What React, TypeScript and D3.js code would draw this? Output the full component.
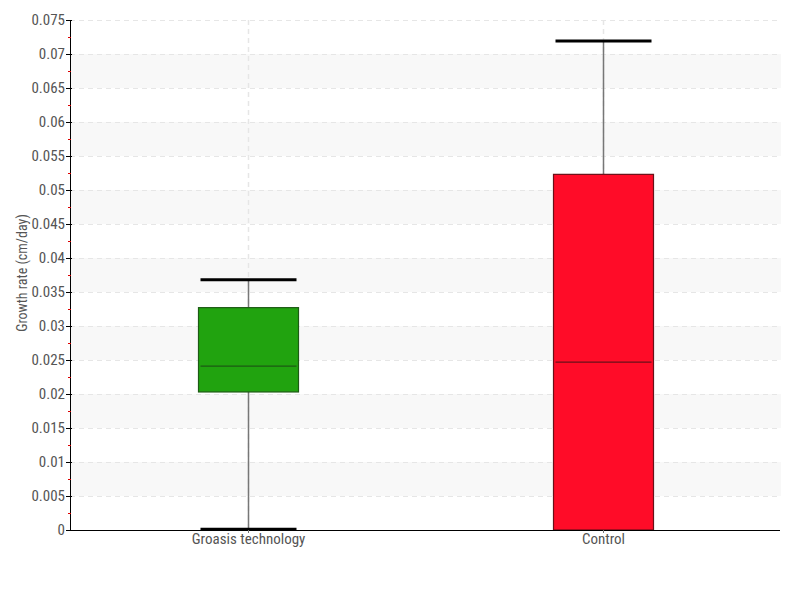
import React from "react";
import * as d3 from "d3";

const categories = ["Groasis technology", "Control"];
const whiskerLow = [0.0001, 0];
const q1 = [0.0203, 0];
const median = [0.0241, 0.0247];
const q3 = [0.0327, 0.0523];
const whiskerHigh = [0.0368, 0.0719];
const fills = ["#21a30f", "#ff0c28"];
const strokes = ["#1d5a14", "#6a1018"];
const yTicks = d3.range(0, 0.0751, 0.005);
const yMinor = d3.range(0.0025, 0.075, 0.005);
const yTitle = "Growth rate (cm/day)";

const W = 800, H = 600;
const L = 70, R = 780, T = 20, B = 530;
const font = "'Liberation Sans Narrow', 'Roboto Condensed', 'Liberation Sans', sans-serif";

export default function App() {
  const y = d3.scaleLinear().domain([0, 0.075]).range([B, T]);
  const x = d3.scaleBand().domain(categories).range([L, R]);
  const boxW = 100;
  const capW = 96;
  const fmt = (v: number) => {
    const s = +v.toFixed(4);
    return s === 0 ? "0" : String(s);
  };
  return (
    <svg width={W} height={H} style={{ position: "absolute", left: 0, top: 0, background: "#fff" }}>
      {d3.range(0, 7).map((k) => {
        const lo = (2 * k + 1) * 0.005;
        const hi = (2 * k + 2) * 0.005;
        return <rect key={"b" + k} x={L} y={y(hi)} width={R - L + 1} height={y(lo) - y(hi)} fill="#f8f8f8" />;
      })}
      {yTicks.map((t, i) => (
        <line key={"g" + i} x1={L} x2={R - 3} y1={Math.round(y(t)) + 0.5} y2={Math.round(y(t)) + 0.5} stroke="#e6e6e6" strokeDasharray="5,4" />
      ))}
      {categories.map((c) => {
        const cx = Math.round(x(c)! + x.bandwidth() / 2) + 0.5;
        return <line key={"vg" + c} x1={cx} x2={cx} y1={T} y2={B} stroke="#e6e6e6" strokeWidth={1.5} strokeDasharray="5,4" />;
      })}
      {categories.map((c, i) => {
        const cx = Math.round(x(c)! + x.bandwidth() / 2) + 0.5;
        const showLowCap = whiskerLow[i] < q1[i];
        return (
          <g key={"box" + c}>
            <line x1={cx} x2={cx} y1={y(whiskerHigh[i])} y2={y(q3[i])} stroke="#777" strokeWidth={1.5} />
            {showLowCap && <line x1={cx} x2={cx} y1={y(q1[i])} y2={y(whiskerLow[i])} stroke="#777" strokeWidth={1.5} />}
            <rect x={cx - boxW / 2} y={y(q3[i])} width={boxW} height={y(q1[i]) - y(q3[i])} fill={fills[i]} stroke={strokes[i]} strokeWidth={1.2} />
            <line x1={cx - boxW / 2 + 2} x2={cx + boxW / 2 - 2} y1={y(median[i])} y2={y(median[i])} stroke={strokes[i]} strokeWidth={1.3} />
            <line x1={cx - capW / 2} x2={cx + capW / 2} y1={y(whiskerHigh[i])} y2={y(whiskerHigh[i])} stroke="#000" strokeWidth={3} />
            {showLowCap && <line x1={cx - capW / 2} x2={cx + capW / 2} y1={y(whiskerLow[i])} y2={y(whiskerLow[i])} stroke="#000" strokeWidth={3} />}
          </g>
        );
      })}
      <line x1={L + 0.5} x2={L + 0.5} y1={T} y2={B + 1} stroke="#000" strokeWidth={1} />
      {yMinor.map((t, i) => (
        <line key={"mn" + i} x1={L - 2} x2={L + 1} y1={Math.round(y(t)) + 0.5} y2={Math.round(y(t)) + 0.5} stroke="#d00" strokeWidth={1} />
      ))}
      {yTicks.map((t, i) => (
        <g key={"yt" + i}>
          <line x1={L - 4} x2={L + 2} y1={Math.round(y(t)) + 0.5} y2={Math.round(y(t)) + 0.5} stroke="#000" strokeWidth={1} />
          <text x={L - 5} y={y(t)} dy="0.35em" textAnchor="end" fontFamily={font} fontSize={15} fill="#555">
            {fmt(t)}
          </text>
        </g>
      ))}
      <line x1={L} x2={R} y1={B + 0.5} y2={B + 0.5} stroke="#000" strokeWidth={1} />
      {categories.map((c) => {
        const cx = Math.round(x(c)! + x.bandwidth() / 2) + 0.5;
        return (
          <g key={"xt" + c}>
            <line x1={cx} x2={cx} y1={B} y2={B + 3} stroke="#777" />
            <text x={cx} y={B + 14} textAnchor="middle" fontFamily={font} fontSize={15} fill="#555">
              {c}
            </text>
          </g>
        );
      })}
      <text transform={`translate(27,${(T + B) / 2 - 2}) rotate(-90)`} textAnchor="middle" fontFamily={font} fontSize={14} fill="#555">
        {yTitle}
      </text>
    </svg>
  );
}
